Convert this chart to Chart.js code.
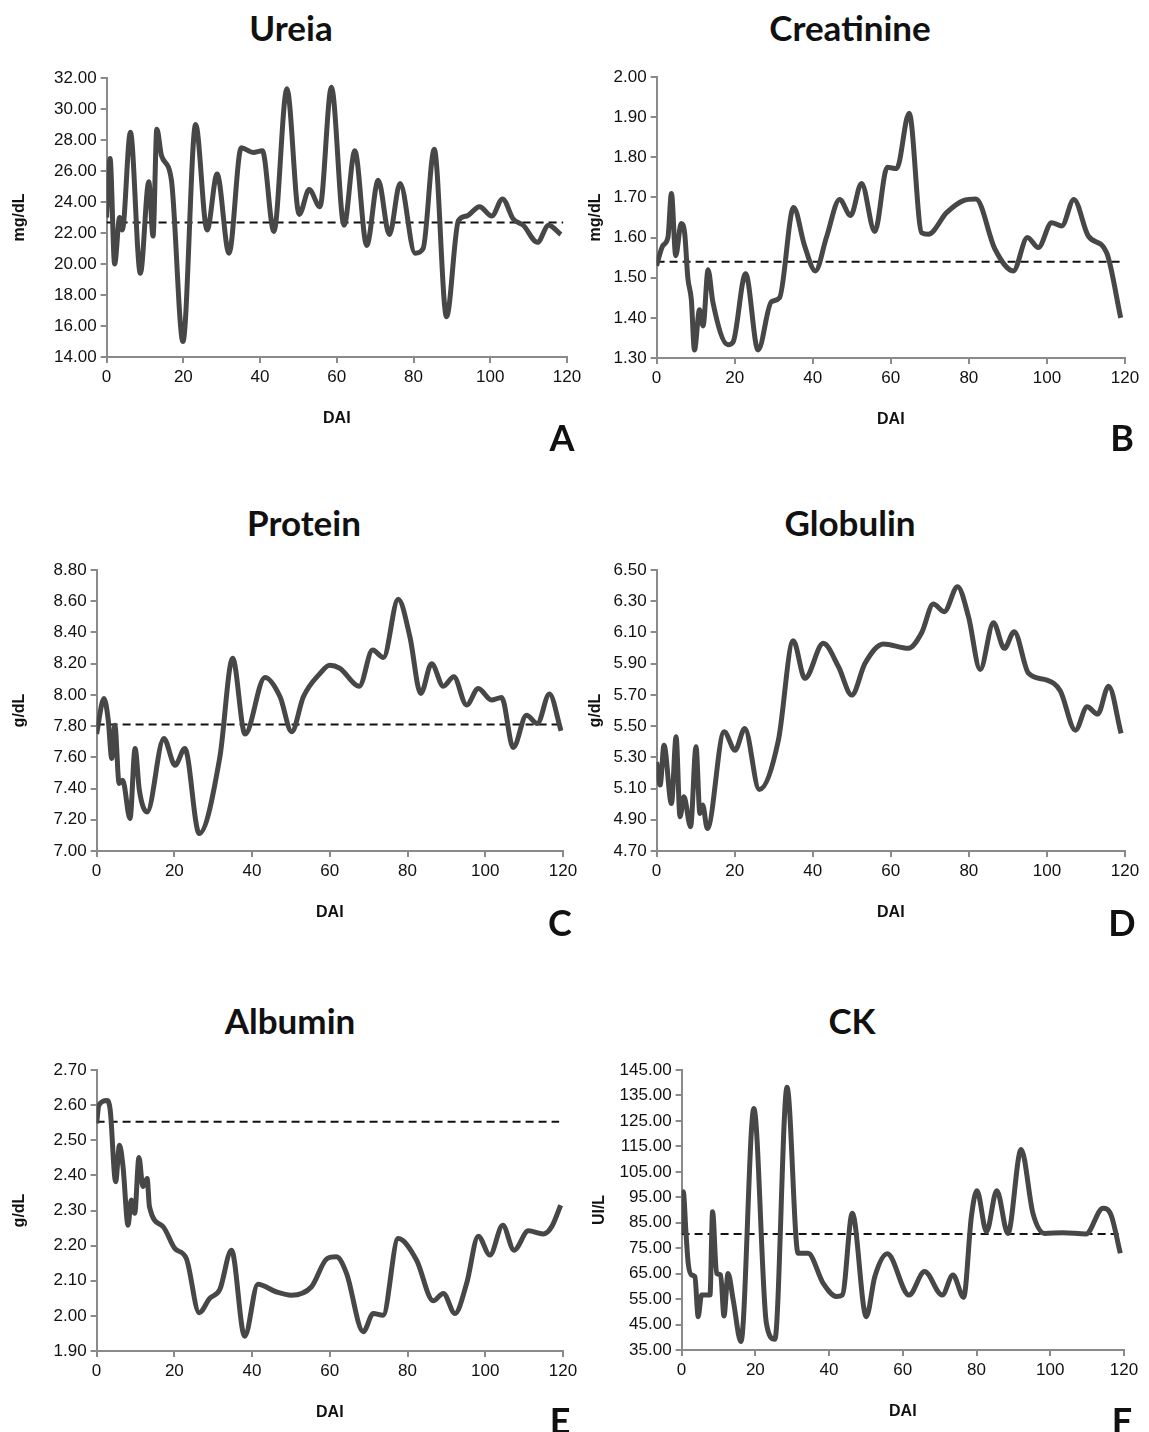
<!DOCTYPE html>
<html>
<head>
<meta charset="utf-8">
<script src="https://cdn.jsdelivr.net/npm/chart.js@4.4.1/dist/chart.umd.min.js"></script>
<style>
  html, body { margin: 0; padding: 0; background: #fff; }
  body { width: 1149px; height: 1432px; position: relative; overflow: hidden;
         font-family: Lato, "Open Sans", "Liberation Sans", sans-serif; }
  .box { position: absolute; }
  .ttl { position: absolute; font-weight: bold; font-size: 35px; color: #111;
         transform: translate(-50%, -50%); white-space: nowrap; }
  .let { position: absolute; font-weight: bold; font-size: 36px; color: #111;
         transform: translate(-50%, -50%); }
</style>
</head>
<body>
<script>
// ---- data ----
const ureiaDays = [0, 0.9, 2.1, 3.4, 4.1, 6.2, 8.8, 11.0, 12.1, 13.1, 14.3, 16.9, 19.9, 23.2, 26.2, 28.8, 31.9, 35.1, 38.2, 40.6, 43.6, 47.0, 50.2, 52.8, 55.6, 58.6, 61.9, 64.7, 67.8, 70.8, 73.7, 76.5, 80.4, 82.5, 85.4, 88.6, 91.7, 93.9, 97.2, 100.4, 103.2, 106.0, 108.6, 112.3, 115.2, 118.4];
const ureiaValues = [23.0, 26.8, 20.0, 23.0, 22.2, 28.5, 19.4, 25.3, 21.8, 28.7, 27.0, 25.4, 15.0, 29.0, 22.2, 25.8, 20.7, 27.5, 27.2, 27.3, 22.1, 31.3, 23.2, 24.8, 23.7, 31.4, 22.5, 27.3, 21.2, 25.4, 21.9, 25.2, 20.7, 21.0, 27.4, 16.6, 22.8, 23.1, 23.7, 23.1, 24.2, 22.9, 22.5, 21.4, 22.5, 21.9];
const ureiaRef = 22.67;

const creatDays = [0, 1.6, 2.9, 3.8, 4.9, 6.3, 7.2, 8.0, 8.9, 9.7, 11.0, 11.9, 13.2, 14.4, 18.3, 19.6, 22.8, 26.0, 29.4, 31.5, 35.1, 37.9, 40.7, 43.5, 46.9, 49.7, 52.5, 55.9, 59.1, 61.5, 64.7, 67.9, 69.6, 74.3, 78.6, 81.8, 86.7, 91.4, 95.0, 97.8, 101.2, 103.8, 106.9, 110.6, 115.3, 118.9];
const creatValues = [1.53, 1.58, 1.60, 1.71, 1.555, 1.635, 1.61, 1.50, 1.445, 1.32, 1.42, 1.38, 1.52, 1.44, 1.333, 1.34, 1.51, 1.32, 1.44, 1.45, 1.675, 1.58, 1.517, 1.60, 1.695, 1.655, 1.735, 1.615, 1.775, 1.772, 1.91, 1.612, 1.608, 1.662, 1.692, 1.696, 1.571, 1.517, 1.60, 1.575, 1.637, 1.629, 1.695, 1.604, 1.562, 1.40];
const creatRef = 1.54;

const protDays = [0, 1.9, 3.0, 3.9, 4.7, 5.8, 6.7, 8.6, 9.9, 11.0, 13.0, 17.3, 20.2, 22.7, 26.4, 31.7, 35.0, 38.2, 43.3, 47.2, 50.2, 53.2, 57.5, 60.0, 62.6, 67.6, 71.0, 73.8, 77.6, 80.6, 83.4, 86.2, 89.2, 91.9, 95.2, 98.2, 101.6, 104.2, 107.2, 110.6, 113.4, 116.5, 119.5];
const protValues = [7.75, 7.977, 7.838, 7.593, 7.806, 7.432, 7.454, 7.208, 7.657, 7.39, 7.25, 7.72, 7.55, 7.657, 7.112, 7.60, 8.234, 7.749, 8.112, 7.988, 7.764, 7.988, 8.138, 8.19, 8.17, 8.056, 8.287, 8.24, 8.612, 8.373, 8.009, 8.20, 8.056, 8.116, 7.935, 8.041, 7.967, 7.984, 7.663, 7.87, 7.817, 8.005, 7.77];
const protRef = 7.81;

const globDays = [0, 0.9, 1.9, 3.8, 5.0, 6.0, 7.0, 8.7, 10.1, 11.1, 11.8, 13.0, 17.3, 20.1, 22.6, 26.3, 31.2, 35.0, 38.0, 42.7, 46.6, 50.0, 53.4, 58.1, 64.5, 67.9, 70.9, 73.7, 77.1, 79.9, 82.9, 86.3, 89.1, 91.6, 95.3, 100.0, 103.4, 107.3, 110.3, 113.0, 115.8, 119.0];
const globValues = [5.27, 5.122, 5.378, 5.004, 5.432, 4.919, 5.047, 4.855, 5.368, 4.94, 4.994, 4.844, 5.464, 5.346, 5.485, 5.094, 5.41, 6.047, 5.806, 6.03, 5.88, 5.699, 5.902, 6.026, 5.998, 6.098, 6.282, 6.233, 6.393, 6.201, 5.863, 6.162, 5.998, 6.105, 5.838, 5.795, 5.726, 5.474, 5.624, 5.577, 5.756, 5.453];

const albDays = [0, 0.6, 2.7, 3.5, 4.9, 5.9, 6.8, 8.1, 8.9, 9.8, 10.9, 11.9, 13.0, 13.6, 17.1, 20.1, 23.1, 26.4, 29.1, 31.7, 34.7, 38.1, 41.5, 46.3, 50.1, 55.3, 59.3, 61.7, 64.3, 68.6, 71.2, 73.7, 77.6, 82.3, 86.6, 89.2, 92.2, 95.2, 98.2, 101.2, 104.5, 107.4, 111.1, 114.9, 117.1, 119.4];
const albValues = [2.548, 2.60, 2.613, 2.586, 2.382, 2.486, 2.425, 2.258, 2.33, 2.292, 2.451, 2.368, 2.391, 2.311, 2.254, 2.192, 2.163, 2.009, 2.05, 2.075, 2.187, 1.942, 2.09, 2.068, 2.059, 2.083, 2.163, 2.168, 2.121, 1.955, 2.007, 2.002, 2.22, 2.159, 2.043, 2.064, 2.007, 2.092, 2.227, 2.173, 2.258, 2.187, 2.242, 2.233, 2.254, 2.315];
const albRef = 2.553;

const ckDays = [0, 0.45, 1.2, 1.8, 2.7, 3.6, 4.5, 5.4, 7.7, 8.4, 9.5, 10.6, 11.5, 12.6, 14.0, 16.1, 19.6, 23.0, 25.3, 28.6, 31.6, 34.3, 38.4, 42.0, 43.6, 46.3, 50.1, 52.4, 55.8, 61.7, 65.9, 70.7, 73.6, 76.5, 78.6, 80.1, 82.7, 85.5, 88.5, 92.1, 95.3, 98.5, 103.4, 109.7, 114.3, 116.5, 119.0];
const ckValues = [80.8, 97.2, 80.8, 69.0, 64.5, 63.8, 48.1, 56.6, 56.6, 89.3, 65.1, 64.5, 48.4, 65.1, 54.6, 38.3, 129.9, 45.5, 39.2, 138.2, 73.0, 73.0, 61.2, 56.0, 56.6, 88.7, 48.1, 63.8, 72.8, 56.6, 65.8, 56.6, 64.5, 55.7, 87.4, 97.6, 81.5, 97.6, 80.8, 113.8, 88.7, 80.8, 81.1, 80.6, 90.7, 88.0, 73.0];
const ckRef = 80.6;

const xTicks = [0, 20, 40, 60, 80, 100, 120];
const refSpan = [0, 119];

// ---- panel setup ----
const LINE = "#474747";
const AXIS = "#8a8a8a";
const TXT = "#111";

function pts(days, vals) { return days.map((d, i) => ({ x: d, y: vals[i] })); }

function addText(cls, txt, x, y) {
  const el = document.createElement("div");
  el.className = cls;
  el.textContent = txt;
  el.style.left = x + "px";
  el.style.top = y + "px";
  document.body.appendChild(el);
}

function makePanel(p) {
  const PAD_T = 15, PAD_R = 25, X_H = 71;
  const left = p.yTitleX - 9.6;
  const top = p.top - PAD_T;
  const w = (p.right + PAD_R) - left;
  const h = (p.bottom + X_H) - top;

  const box = document.createElement("div");
  box.className = "box";
  box.style.left = left + "px";
  box.style.top = top + "px";
  const cv = document.createElement("canvas");
  cv.width = Math.round(w);
  cv.height = Math.round(h);
  box.appendChild(cv);
  document.body.appendChild(box);

  const datasets = [{
    data: pts(p.days, p.values),
    borderColor: LINE,
    borderWidth: 5,
    pointRadius: 0,
    cubicInterpolationMode: "monotone",
    fill: false
  }];
  if (p.ref !== undefined) {
    datasets.push({
      data: refSpan.map(d => ({ x: d, y: p.ref })),
      borderColor: "#111",
      borderWidth: 2,
      borderDash: [8, 5],
      pointRadius: 0,
      fill: false
    });
  }

  new Chart(cv, {
    type: "line",
    data: { datasets },
    options: {
      responsive: false,
      animation: false,
      layout: { padding: { top: PAD_T, right: PAD_R, left: 0, bottom: 0 } },
      plugins: { legend: { display: false }, tooltip: { enabled: false } },
      scales: {
        x: {
          type: "linear", min: 0, max: 120,
          afterBuildTicks: s => { s.ticks = xTicks.map(v => ({ value: v })); },
          afterFit: s => { s.height = X_H; },
          grid: { drawOnChartArea: false, drawTicks: true, tickLength: 6, color: AXIS, lineWidth: 2 },
          border: { color: AXIS, width: 2 },
          ticks: { color: TXT, font: { size: 17 }, padding: 4, maxRotation: 0 },
          title: { display: true, text: "DAI", color: TXT, font: { size: 16, weight: "bold" }, padding: 0 }
        },
        y: {
          min: p.min, max: p.max,
          afterFit: s => { s.width = p.left - left; },
          grid: { drawOnChartArea: false, drawTicks: true, tickLength: 6, color: AXIS, lineWidth: 2 },
          border: { color: AXIS, width: 2 },
          ticks: { stepSize: p.step, color: TXT, font: { size: 17 }, padding: 4,
                   callback: v => v.toFixed(2) },
          title: { display: true, text: p.unit, color: TXT, font: { size: 16, weight: "bold" }, padding: 0 }
        }
      }
    }
  });

  addText("ttl", p.title, p.titleX, p.titleY);
  addText("let", p.letter, p.letterX, p.letterY);
}

const panels = [
  { title: "Ureia", letter: "A", days: ureiaDays, values: ureiaValues, ref: ureiaRef,
    min: 14, max: 32, step: 2, unit: "mg/dL",
    left: 107, right: 567, top: 78, bottom: 357, yTitleX: 20,
    titleX: 291, titleY: 27, letterX: 562, letterY: 437 },
  { title: "Creatinine", letter: "B", days: creatDays, values: creatValues, ref: creatRef,
    min: 1.3, max: 2.0, step: 0.1, unit: "mg/dL",
    left: 657, right: 1125, top: 77, bottom: 358, yTitleX: 596,
    titleX: 850, titleY: 27, letterX: 1122, letterY: 437 },
  { title: "Protein", letter: "C", days: protDays, values: protValues, ref: protRef,
    min: 7.0, max: 8.8, step: 0.2, unit: "g/dL",
    left: 97, right: 563, top: 570, bottom: 851, yTitleX: 20,
    titleX: 304, titleY: 522, letterX: 560, letterY: 922 },
  { title: "Globulin", letter: "D", days: globDays, values: globValues,
    min: 4.7, max: 6.5, step: 0.2, unit: "g/dL",
    left: 657, right: 1125, top: 570, bottom: 851, yTitleX: 596,
    titleX: 850, titleY: 522, letterX: 1122, letterY: 922 },
  { title: "Albumin", letter: "E", days: albDays, values: albValues, ref: albRef,
    min: 1.9, max: 2.7, step: 0.1, unit: "g/dL",
    left: 97, right: 563, top: 1070, bottom: 1351, yTitleX: 20,
    titleX: 290, titleY: 1020, letterX: 560, letterY: 1420 },
  { title: "CK", letter: "F", days: ckDays, values: ckValues, ref: ckRef,
    min: 35, max: 145, step: 10, unit: "UI/L",
    left: 682, right: 1124, top: 1070, bottom: 1350, yTitleX: 600,
    titleX: 852, titleY: 1020, letterX: 1122, letterY: 1420 }
];

panels.forEach(makePanel);
</script>
</body>
</html>
